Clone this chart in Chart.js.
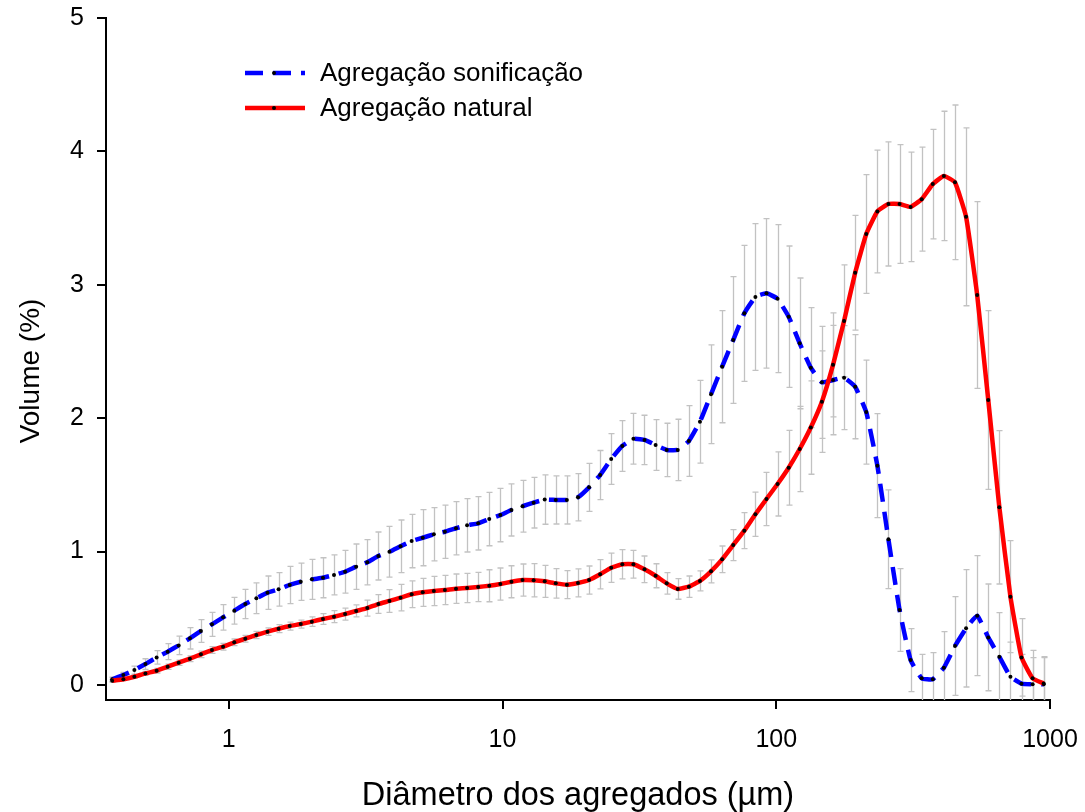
<!DOCTYPE html>
<html>
<head>
<meta charset="utf-8">
<script src="https://cdn.jsdelivr.net/npm/chart.js@4/dist/chart.umd.min.js"></script>
<style>
  html, body { margin: 0; padding: 0; background: #ffffff; }
  canvas { display: block; }
</style>
</head>
<body>
<canvas id="chart" width="1085" height="812"></canvas>
<script>
// Size classes of the particle analyser (µm)
const diameters = [
  0.375, 0.412, 0.452, 0.496, 0.545, 0.598, 0.656, 0.721, 0.791, 0.868,
  0.953, 1.047, 1.149, 1.261, 1.385, 1.520, 1.669, 1.832, 2.011, 2.208,
  2.423, 2.660, 2.920, 3.206, 3.519, 3.863, 4.241, 4.656, 5.111, 5.611,
  6.159, 6.761, 7.422, 8.148, 8.944, 9.819, 10.78, 11.83, 12.99, 14.26,
  15.65, 17.18, 18.86, 20.71, 22.73, 24.95, 27.39, 30.07, 33.01, 36.24,
  39.78, 43.67, 47.94, 52.63, 57.77, 63.42, 69.62, 76.43, 83.90, 92.10,
  101.1, 111.0, 121.8, 133.7, 146.8, 161.2, 176.9, 194.2, 213.2, 234.1,
  256.9, 282.1, 309.6, 339.9, 373.1, 409.6, 449.7, 493.6, 541.9, 594.9,
  653.0, 716.9, 786.9, 863.9, 948.2
];

// Volume (%) after sonication, with standard deviation
const sonicationVolume = [
  0.043, 0.075, 0.112, 0.157, 0.207, 0.250, 0.297, 0.350, 0.405, 0.455,
  0.507, 0.557, 0.607, 0.650, 0.692, 0.717, 0.750, 0.774, 0.792, 0.804,
  0.825, 0.849, 0.887, 0.920, 0.967, 0.999, 1.040, 1.079, 1.104, 1.130,
  1.149, 1.175, 1.197, 1.212, 1.244, 1.274, 1.312, 1.340, 1.367, 1.390,
  1.387, 1.387, 1.407, 1.482, 1.574, 1.694, 1.792, 1.846, 1.837, 1.799,
  1.762, 1.762, 1.829, 1.974, 2.179, 2.386, 2.586, 2.786, 2.909, 2.936,
  2.896, 2.761, 2.561, 2.379, 2.269, 2.286, 2.304, 2.236, 2.046, 1.644,
  1.092, 0.562, 0.187, 0.050, 0.043, 0.130, 0.292, 0.425, 0.520, 0.357,
  0.212, 0.062, 0.010, 0.005, 0.005
];
const sonicationSD = [
  0.015, 0.020, 0.030, 0.040, 0.050, 0.060, 0.070, 0.080, 0.085, 0.090,
  0.095, 0.100, 0.110, 0.115, 0.125, 0.125, 0.140, 0.140, 0.150, 0.150,
  0.150, 0.160, 0.170, 0.170, 0.180, 0.190, 0.197, 0.200, 0.210, 0.200,
  0.200, 0.200, 0.200, 0.200, 0.200, 0.200, 0.195, 0.194, 0.190, 0.185,
  0.180, 0.180, 0.177, 0.180, 0.184, 0.190, 0.190, 0.190, 0.185, 0.190,
  0.200, 0.230, 0.265, 0.310, 0.370, 0.420, 0.475, 0.510, 0.550, 0.560,
  0.555, 0.530, 0.490, 0.450, 0.420, 0.410, 0.390, 0.390, 0.390, 0.390,
  0.370, 0.310, 0.236, 0.180, 0.200, 0.270, 0.370, 0.440, 0.450, 0.400,
  0.330, 0.260, 0.220, 0.200, 0.200
];

// Volume (%) of the natural aggregates, with standard deviation
const naturalVolume = [
  0.032, 0.043, 0.062, 0.087, 0.107, 0.137, 0.167, 0.197, 0.230, 0.262,
  0.287, 0.320, 0.347, 0.375, 0.400, 0.422, 0.442, 0.457, 0.475, 0.495,
  0.512, 0.532, 0.555, 0.577, 0.607, 0.630, 0.655, 0.680, 0.695, 0.705,
  0.712, 0.722, 0.727, 0.735, 0.744, 0.757, 0.774, 0.787, 0.785, 0.777,
  0.762, 0.752, 0.765, 0.787, 0.830, 0.879, 0.905, 0.905, 0.867, 0.819,
  0.762, 0.720, 0.737, 0.780, 0.852, 0.942, 1.049, 1.157, 1.280, 1.394,
  1.507, 1.629, 1.769, 1.930, 2.124, 2.400, 2.729, 3.091, 3.381, 3.550,
  3.606, 3.606, 3.584, 3.642, 3.755, 3.816, 3.768, 3.510, 2.924, 2.136,
  1.332, 0.662, 0.207, 0.050, 0.012
];
const naturalSD = [
  0.010, 0.010, 0.012, 0.015, 0.017, 0.020, 0.020, 0.022, 0.024, 0.025,
  0.025, 0.025, 0.025, 0.027, 0.028, 0.030, 0.030, 0.030, 0.035, 0.040,
  0.045, 0.045, 0.045, 0.060, 0.070, 0.085, 0.100, 0.100, 0.105, 0.110,
  0.110, 0.110, 0.110, 0.110, 0.120, 0.120, 0.120, 0.120, 0.125, 0.120,
  0.110, 0.105, 0.105, 0.105, 0.110, 0.110, 0.110, 0.104, 0.100, 0.090,
  0.080, 0.077, 0.080, 0.075, 0.086, 0.100, 0.116, 0.135, 0.166, 0.200,
  0.240, 0.280, 0.320, 0.350, 0.380, 0.390, 0.420, 0.430, 0.445, 0.460,
  0.465, 0.445, 0.410, 0.390, 0.410, 0.485, 0.580, 0.667, 0.700, 0.670,
  0.575, 0.420, 0.290, 0.210, 0.200
];

const seriesLabels = ['Agregação sonificação', 'Agregação natural'];
const xTickValues = [1, 10, 100, 1000];
const yTickValues = [0, 1, 2, 3, 4, 5];
const xAxisTitle = 'Diâmetro dos agregados (µm)';
const yAxisTitle = 'Volume (%)';

const FONT = '"Liberation Sans", Arial, Helvetica, sans-serif';

function toPoints(values) {
  return diameters.map((d, i) => ({ x: d, y: values[i] }));
}

// Vertical standard-deviation whiskers, drawn beneath the curves
const errorBarPlugin = {
  id: 'errorBars',
  beforeDatasetsDraw(chart) {
    const { ctx, chartArea, scales } = chart;
    const xs = scales.x, ys = scales.y;
    ctx.save();
    ctx.beginPath();
    ctx.rect(chartArea.left, chartArea.top, chartArea.right - chartArea.left, chartArea.bottom - chartArea.top);
    ctx.clip();
    ctx.strokeStyle = '#c2c2c2';
    ctx.lineWidth = 1.3;
    chart.data.datasets.forEach(ds => {
      const sd = ds.errors;
      if (!sd) return;
      ds.data.forEach((p, i) => {
        const px = Math.round(xs.getPixelForValue(p.x)) + 0.5;
        const top = ys.getPixelForValue(p.y + sd[i]);
        const bot = ys.getPixelForValue(p.y - sd[i]);
        ctx.beginPath();
        ctx.moveTo(px, top); ctx.lineTo(px, bot);
        ctx.moveTo(px - 3, top); ctx.lineTo(px + 3, top);
        ctx.moveTo(px - 3, bot); ctx.lineTo(px + 3, bot);
        ctx.stroke();
      });
    });
    ctx.restore();
  }
};

// Legend with line samples inside the plot area, plus the rotated y title
const annotationPlugin = {
  id: 'insideLegend',
  afterDraw(chart) {
    const { ctx } = chart;
    const rows = [
      { ds: chart.data.datasets[0], y: 73 },
      { ds: chart.data.datasets[1], y: 108 }
    ];
    ctx.save();
    rows.forEach(r => {
      ctx.beginPath();
      ctx.setLineDash(r.ds.borderDash || []);
      ctx.strokeStyle = r.ds.borderColor;
      ctx.lineWidth = r.ds.borderWidth;
      ctx.moveTo(245, r.y);
      ctx.lineTo(305, r.y);
      ctx.stroke();
      ctx.setLineDash([]);
      ctx.beginPath();
      ctx.fillStyle = '#000';
      ctx.arc(274, r.y, 2, 0, Math.PI * 2);
      ctx.fill();
      ctx.font = '26px ' + FONT;
      ctx.textAlign = 'left';
      ctx.textBaseline = 'middle';
      ctx.fillText(r.ds.label, 320, r.y + 1);
    });

    ctx.translate(31, 371);
    ctx.rotate(-Math.PI / 2);
    ctx.font = '28px ' + FONT;
    ctx.textAlign = 'center';
    ctx.textBaseline = 'middle';
    ctx.fillStyle = '#000';
    ctx.fillText(yAxisTitle, 0, 0);
    ctx.restore();
  }
};

const axisLine = { display: true, color: '#000', width: 2 };
const tickGrid = { drawOnChartArea: false, drawTicks: true, tickLength: 9, color: '#000', lineWidth: 2 };

new Chart(document.getElementById('chart').getContext('2d'), {
  type: 'line',
  data: {
    datasets: [
      {
        label: seriesLabels[0],
        data: toPoints(sonicationVolume),
        errors: sonicationSD,
        borderColor: '#0000ff',
        borderWidth: 4.5,
        borderDash: [18, 10],
        pointRadius: 2,
        pointBackgroundColor: '#000',
        pointBorderWidth: 0,
        tension: 0.12,
        fill: false,
        order: 1
      },
      {
        label: seriesLabels[1],
        data: toPoints(naturalVolume),
        errors: naturalSD,
        borderColor: '#ff0000',
        borderWidth: 4.5,
        pointRadius: 2,
        pointBackgroundColor: '#000',
        pointBorderWidth: 0,
        tension: 0.12,
        fill: false,
        order: 0
      }
    ]
  },
  options: {
    responsive: false,
    animation: false,
    devicePixelRatio: 1,
    layout: { padding: { left: 0, right: 35, top: 18, bottom: 0 } },
    plugins: {
      legend: { display: false },
      tooltip: { enabled: false }
    },
    scales: {
      x: {
        type: 'logarithmic',
        min: 0.356,
        max: 1000,
        afterBuildTicks: axis => { axis.ticks = xTickValues.map(v => ({ value: v })); },
        afterFit: axis => {
          axis.height = 112;
          axis.paddingLeft = 0;
          axis.paddingRight = 0;
        },
        border: axisLine,
        grid: tickGrid,
        ticks: {
          color: '#000',
          font: { family: FONT, size: 25 },
          padding: 16,
          maxRotation: 0,
          autoSkip: false,
          callback: v => String(v)
        },
        title: {
          display: true,
          text: xAxisTitle,
          color: '#000',
          font: { family: FONT, size: 32.5, lineHeight: 1 },
          padding: { top: 0, bottom: 0 }
        }
      },
      y: {
        min: -0.1124,
        max: 5,
        afterBuildTicks: axis => { axis.ticks = yTickValues.map(v => ({ value: v })); },
        afterFit: axis => {
          axis.width = 106;
          axis.paddingTop = 0;
          axis.paddingBottom = 0;
        },
        border: axisLine,
        grid: tickGrid,
        ticks: {
          color: '#000',
          font: { family: FONT, size: 25 },
          padding: 13,
          callback: v => String(v)
        }
      }
    }
  },
  plugins: [errorBarPlugin, annotationPlugin]
});
</script>
</body>
</html>
